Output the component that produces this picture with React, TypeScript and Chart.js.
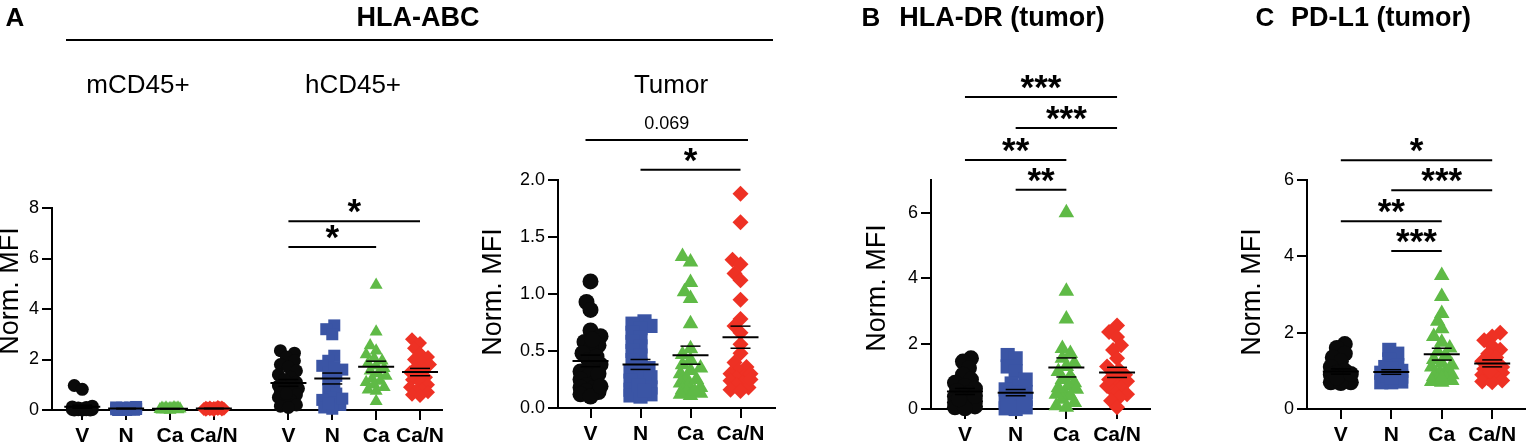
import React, { useEffect, useRef } from "react";
import { Chart, registerables } from "chart.js";
Chart.register(...registerables);

const FONT = "'Liberation Sans', Arial, Helvetica, sans-serif";

// ---------- categories / styling ----------
const GROUP_LABELS = ["V", "N", "Ca", "Ca/N"];
const GROUP_COLORS = ["#0a0a0a", "#3b55a5", "#5fba46", "#ee3124"];
const GROUP_SHAPES = ["circle", "rect", "triangle", "rectRot"];

// ---------- Panel A : HLA-ABC, mCD45+ ----------
const mCD45_V = [0.97, 0.82, 0.15, 0.12, 0.1, 0.08, 0.06, 0.05, 0.04, 0.03, 0.02, 0.02, 0.01, 0.0, 0.0, 0.0, 0.05, 0.07, 0.03, 0.01];
const mCD45_N = [0.12, 0.1, 0.09, 0.08, 0.07, 0.06, 0.05, 0.05, 0.04, 0.03, 0.02, 0.01, 0.0, 0.0, 0.03, 0.06, 0.08, 0.1];
const mCD45_Ca = [0.1, 0.09, 0.08, 0.07, 0.06, 0.05, 0.04, 0.03, 0.02, 0.01, 0.0, 0.02, 0.05, 0.07, 0.09, 0.03];
const mCD45_CaN = [0.12, 0.1, 0.09, 0.08, 0.07, 0.06, 0.05, 0.04, 0.03, 0.02, 0.01, 0.0, 0.05, 0.08, 0.1, 0.04];

// ---------- Panel A : HLA-ABC, hCD45+ ----------
const hCD45_V = [2.35, 2.25, 2.1, 1.95, 1.8, 1.7, 1.55, 1.4, 1.3, 1.2, 1.1, 1.0, 0.95, 0.9, 0.85, 0.8, 0.7, 0.6, 0.5, 0.4, 0.3, 0.2, 0.15, 0.1, 0.65];
const hCD45_N = [3.35, 3.2, 3.0, 2.15, 1.95, 1.75, 1.6, 1.5, 1.35, 1.2, 1.0, 0.8, 0.65, 0.5, 0.4, 0.3, 0.2, 0.1, 0.05, 1.7, 0.45, 0.25];
const hCD45_Ca = [4.95, 3.1, 2.55, 2.35, 2.2, 2.05, 1.95, 1.85, 1.75, 1.65, 1.55, 1.45, 1.35, 1.25, 1.15, 1.1, 1.0, 0.9, 0.8, 0.75, 0.35];
const hCD45_CaN = [2.8, 2.65, 2.45, 2.25, 2.1, 2.0, 1.9, 1.8, 1.7, 1.6, 1.5, 1.4, 1.3, 1.2, 1.1, 1.0, 0.9, 0.8, 0.75, 0.7, 0.6, 0.55];

// ---------- Panel A : HLA-ABC, Tumor ----------
const tumor_V = [1.11, 0.93, 0.86, 0.68, 0.63, 0.58, 0.55, 0.52, 0.48, 0.42, 0.38, 0.35, 0.32, 0.28, 0.25, 0.22, 0.2, 0.18, 0.17, 0.15, 0.14, 0.12, 0.1, 0.6, 0.45, 0.3, 0.19];
const tumor_N = [0.76, 0.74, 0.72, 0.7, 0.66, 0.62, 0.58, 0.54, 0.5, 0.46, 0.42, 0.38, 0.35, 0.32, 0.3, 0.27, 0.24, 0.21, 0.18, 0.16, 0.14, 0.12, 0.11, 0.1, 0.2, 0.15];
const tumor_Ca = [1.33, 1.28, 1.1, 1.02, 0.96, 0.74, 0.52, 0.47, 0.42, 0.38, 0.33, 0.3, 0.26, 0.22, 0.2, 0.18, 0.16, 0.14, 0.13, 0.12, 0.11, 0.15, 0.25, 0.35];
const tumor_CaN = [1.88, 1.63, 1.3, 1.26, 1.18, 1.12, 0.95, 0.78, 0.72, 0.66, 0.56, 0.48, 0.4, 0.36, 0.33, 0.3, 0.28, 0.26, 0.24, 0.22, 0.2, 0.18, 0.16, 0.15, 0.3, 0.25];

// ---------- Panel B : HLA-DR (tumor) ----------
const hladr_V = [1.55, 1.45, 1.25, 1.05, 0.9, 0.8, 0.7, 0.62, 0.55, 0.48, 0.42, 0.38, 0.32, 0.28, 0.24, 0.2, 0.16, 0.12, 0.08, 0.05, 0.02, 0.3, 0.4];
const hladr_N = [1.65, 1.55, 1.3, 1.15, 0.9, 0.78, 0.68, 0.6, 0.52, 0.45, 0.4, 0.35, 0.3, 0.25, 0.2, 0.15, 0.1, 0.05, 0.0, 0.02, 0.5, 0.3, 0.05, 0.1, 0.15];
const hladr_Ca = [6.0, 3.6, 2.75, 1.85, 1.7, 1.55, 1.4, 1.3, 1.15, 1.0, 0.9, 0.8, 0.7, 0.6, 0.5, 0.4, 0.3, 0.2, 0.1, 0.05, 0.45, 0.65];
const hladr_CaN = [2.55, 2.35, 2.2, 1.95, 1.8, 1.55, 1.3, 1.2, 1.05, 0.95, 0.85, 0.75, 0.65, 0.55, 0.45, 0.35, 0.25, 0.05, 1.1, 0.7, 0.9];

// ---------- Panel C : PD-L1 (tumor) ----------
const pdl1_V = [1.7, 1.6, 1.45, 1.35, 1.25, 1.1, 1.0, 0.95, 0.9, 0.87, 0.84, 0.8, 0.78, 0.76, 0.74, 0.72, 0.7, 0.7, 0.68, 0.82, 0.92];
const pdl1_N = [1.55, 1.45, 1.3, 1.15, 1.1, 1.0, 0.95, 0.9, 0.85, 0.8, 0.78, 0.75, 0.72, 0.7, 0.7, 0.88, 0.82, 1.05];
const pdl1_Ca = [3.5, 2.95, 2.5, 2.3, 2.1, 1.9, 1.75, 1.6, 1.5, 1.4, 1.3, 1.2, 1.1, 1.0, 0.95, 0.9, 0.85, 0.8, 0.76, 0.72, 0.7, 1.15, 0.75, 0.8];
const pdl1_CaN = [2.0, 1.9, 1.8, 1.65, 1.55, 1.45, 1.35, 1.25, 1.15, 1.05, 1.0, 0.95, 0.9, 0.85, 0.8, 0.75, 0.72, 0.7, 1.1, 0.98];

// ---------- axis ticks / positions ----------
const A_POSITIONS = [0, 1, 2, 3, 4.7, 5.7, 6.7, 7.7];
const A_LABELS = [...GROUP_LABELS, ...GROUP_LABELS];
const POS4 = [0, 1, 2, 3];
const A_YTICKS = [0, 2, 4, 6, 8];
const TUMOR_YTICKS = [0, 0.5, 1.0, 1.5, 2.0];
const B_YTICKS = [0, 2, 4, 6];
const C_YTICKS = [0, 2, 4, 6];

// ---------- significance brackets (from, to in category units; y in data units) ----------
const A_BRACKETS = [
  { from: 4.7, to: 7.7, y: 7.48, text: "*" },
  { from: 4.7, to: 6.7, y: 6.46, text: "*" },
];
const TUMOR_BRACKETS = [
  { from: -0.1, to: 3.15, y: 2.35, text: "0.069" },
  { from: 1, to: 3, y: 2.09, text: "*" },
];
const B_BRACKETS = [
  { from: 0, to: 3, y: 9.54, text: "***" },
  { from: 1, to: 3, y: 8.59, text: "***" },
  { from: 0, to: 2, y: 7.61, text: "**" },
  { from: 1, to: 2, y: 6.7, text: "**" },
];
const C_BRACKETS = [
  { from: 0, to: 3, y: 6.52, text: "*" },
  { from: 1, to: 3, y: 5.73, text: "***" },
  { from: 0, to: 2, y: 4.92, text: "**" },
  { from: 1, to: 2, y: 4.14, text: "***" },
];

type Bracket = { from: number; to: number; y: number; text: string };
type PanelCfg = {
  left: number;
  width: number;
  yAxisWidth: number;
  top: number;
  bottom: number;
  yMax: number;
  yTicks: number[];
  fmt: (v: number) => string;
  xMin: number;
  xMax: number;
  positions: number[];
  labels: string[];
  groups: number[][];
  radii: number[];
  minDist: number;
  maxOff: number;
  brackets: Bracket[];
  yTitle: { x: number; y: number };
};

const intFmt = (v: number) => String(Math.round(v));
const oneFmt = (v: number) => v.toFixed(1);

const PANELS: PanelCfg[] = [
  {
    left: 0, width: 450, yAxisWidth: 52, top: 208, bottom: 410,
    yMax: 8, yTicks: A_YTICKS, fmt: intFmt,
    xMin: -0.69, xMax: 8.19, positions: A_POSITIONS, labels: A_LABELS,
    groups: [mCD45_V, mCD45_N, mCD45_Ca, mCD45_CaN, hCD45_V, hCD45_N, hCD45_Ca, hCD45_CaN],
    radii: [6.5, 8.5, 7.5, 7], minDist: 7.5, maxOff: 11,
    brackets: A_BRACKETS, yTitle: { x: 11, y: 291 },
  },
  {
    left: 460, width: 325, yAxisWidth: 98, top: 180, bottom: 408,
    yMax: 2, yTicks: TUMOR_YTICKS, fmt: oneFmt,
    xMin: -0.65, xMax: 3.69, positions: POS4, labels: GROUP_LABELS,
    groups: [tumor_V, tumor_N, tumor_Ca, tumor_CaN],
    radii: [8, 10, 9, 8], minDist: 8.5, maxOff: 11,
    brackets: TUMOR_BRACKETS, yTitle: { x: 494, y: 292 },
  },
  {
    left: 850, width: 310, yAxisWidth: 81, top: 180, bottom: 409,
    yMax: 7, yTicks: B_YTICKS, fmt: intFmt,
    xMin: -0.67, xMax: 3.65, positions: POS4, labels: GROUP_LABELS,
    groups: [hladr_V, hladr_N, hladr_Ca, hladr_CaN],
    radii: [8, 10, 9, 8], minDist: 8.5, maxOff: 11,
    brackets: B_BRACKETS, yTitle: { x: 878, y: 288 },
  },
  {
    left: 1215, width: 320, yAxisWidth: 92, top: 180, bottom: 409,
    yMax: 6, yTicks: C_YTICKS, fmt: intFmt,
    xMin: -0.67, xMax: 3.65, positions: POS4, labels: GROUP_LABELS,
    groups: [pdl1_V, pdl1_N, pdl1_Ca, pdl1_CaN],
    radii: [8, 10, 9, 8], minDist: 8.5, maxOff: 11,
    brackets: C_BRACKETS, yTitle: { x: 1253, y: 292 },
  },
];

// deterministic beeswarm layout (pixel offsets), no randomness
function swarm(ys: number[], minDist: number, maxOff: number): number[] {
  const order = ys.map((_, i) => i).sort((a, b) => ys[b] - ys[a]);
  const placed: { x: number; y: number }[] = [];
  const res = new Array(ys.length).fill(0);
  const step = 2;
  const nSteps = Math.floor(maxOff / step) * 2;
  for (const i of order) {
    const y = ys[i];
    let best = 0;
    let bestScore = -Infinity;
    for (let k = 0; k <= nSteps; k++) {
      const off = (k % 2 === 0 ? 1 : -1) * Math.ceil(k / 2) * step;
      let dmin = Infinity;
      for (const p of placed) {
        const d = Math.hypot(p.x - off, p.y - y);
        if (d < dmin) dmin = d;
      }
      if (dmin >= minDist) {
        best = off;
        break;
      }
      if (dmin > bestScore) {
        bestScore = dmin;
        best = off;
      }
    }
    placed.push({ x: best, y });
    res[i] = best;
  }
  return res;
}

const mean = (a: number[]) => a.reduce((s, v) => s + v, 0) / a.length;
const sem = (a: number[]) => {
  const m = mean(a);
  const sd = Math.sqrt(a.reduce((s, v) => s + (v - m) * (v - m), 0) / (a.length - 1));
  return sd / Math.sqrt(a.length);
};

function PanelChart({ cfg }: { cfg: PanelCfg }) {
  const ref = useRef<HTMLCanvasElement>(null);
  useEffect(() => {
    const canvas = ref.current!;
    const axisGrid = { drawOnChartArea: false, drawTicks: true, tickLength: 10, color: "#000", lineWidth: 2 };
    const axisBorder = { display: true, color: "#000", width: 2 };

    const overlay = {
      id: "overlay",
      afterDatasetsDraw(chart: any) {
        const ctx = chart.ctx as CanvasRenderingContext2D;
        const xs = chart.scales.x;
        const ys = chart.scales.y;
        ctx.save();
        ctx.strokeStyle = "#000";
        ctx.fillStyle = "#000";
        ctx.lineCap = "butt";
        // mean +/- SEM
        cfg.groups.forEach((vals, gi) => {
          const cx = xs.getPixelForValue(cfg.positions[gi]);
          const m = mean(vals);
          const s = sem(vals);
          const ym = ys.getPixelForValue(m);
          ctx.lineWidth = 2;
          ctx.beginPath();
          ctx.moveTo(cx - 18, ym);
          ctx.lineTo(cx + 18, ym);
          ctx.stroke();
          ctx.lineWidth = 1.5;
          [m + s, m - s].forEach((v) => {
            const yy = ys.getPixelForValue(v);
            ctx.beginPath();
            ctx.moveTo(cx - 10, yy);
            ctx.lineTo(cx + 10, yy);
            ctx.stroke();
          });
        });
        // brackets
        ctx.lineWidth = 2;
        cfg.brackets.forEach((b) => {
          const x1 = xs.getPixelForValue(b.from);
          const x2 = xs.getPixelForValue(b.to);
          const yy = ys.getPixelForValue(b.y);
          ctx.beginPath();
          ctx.moveTo(x1, yy);
          ctx.lineTo(x2, yy);
          ctx.stroke();
          const isStar = b.text.startsWith("*");
          ctx.font = isStar ? `bold 35px ${FONT}` : `18px ${FONT}`;
          ctx.textAlign = "center";
          ctx.textBaseline = "alphabetic";
          const mt = ctx.measureText(b.text);
          const gap = isStar ? 8 : 11;
          const base = yy - gap - mt.actualBoundingBoxDescent;
          ctx.fillText(b.text, (x1 + x2) / 2, base);
        });
        // y-axis title
        ctx.translate(cfg.yTitle.x - cfg.left, cfg.yTitle.y);
        ctx.rotate(-Math.PI / 2);
        ctx.font = `27px ${FONT}`;
        ctx.textAlign = "center";
        ctx.textBaseline = "middle";
        ctx.fillText("Norm. MFI", 0, 0);
        ctx.restore();
      },
    };

    const chart = new Chart(canvas, {
      type: "scatter",
      data: {
        datasets: cfg.groups.map((vals, gi) => ({
          data: vals.map((v) => ({ x: cfg.positions[gi], y: v })),
          pointStyle: GROUP_SHAPES[gi % 4] as any,
          pointRadius: cfg.radii[gi % 4],
          pointHoverRadius: cfg.radii[gi % 4],
          backgroundColor: GROUP_COLORS[gi % 4],
          borderColor: GROUP_COLORS[gi % 4],
          borderWidth: 0,
          clip: false as any,
        })),
      },
      options: {
        responsive: false,
        animation: false,
        events: [],
        layout: { padding: { top: cfg.top, left: 0, right: 0, bottom: 0 } },
        plugins: { legend: { display: false }, tooltip: { enabled: false }, title: { display: false } },
        scales: {
          x: {
            type: "linear",
            min: cfg.xMin,
            max: cfg.xMax,
            afterBuildTicks: (s: any) => {
              s.ticks = cfg.positions.map((v) => ({ value: v }));
            },
            afterFit: (s: any) => {
              s.height = 446 - cfg.bottom;
            },
            ticks: {
              callback: (_v: any, i: number) => cfg.labels[i],
              autoSkip: false,
              maxRotation: 0,
              minRotation: 0,
              color: "#000",
              font: { family: FONT, size: 21, weight: "bold" },
              padding: 4,
            },
            grid: axisGrid,
            border: axisBorder,
          },
          y: {
            type: "linear",
            min: 0,
            max: cfg.yMax,
            afterBuildTicks: (s: any) => {
              s.ticks = cfg.yTicks.map((v) => ({ value: v }));
            },
            afterFit: (s: any) => {
              s.width = cfg.yAxisWidth;
            },
            ticks: {
              callback: (v: any) => cfg.fmt(Number(v)),
              color: "#000",
              font: { family: FONT, size: 18 },
              padding: 3,
            },
            grid: axisGrid,
            border: axisBorder,
          },
        },
      } as any,
      plugins: [overlay],
    });

    // beeswarm spread computed with the chart's own scales
    const ys = chart.scales.y;
    const xs = chart.scales.x;
    const kx = Math.abs(xs.getPixelForValue(1) - xs.getPixelForValue(0));
    chart.data.datasets.forEach((ds: any, gi: number) => {
      const vals = cfg.groups[gi];
      const pix = vals.map((v) => ys.getPixelForValue(v));
      const offs = swarm(pix, cfg.minDist, cfg.maxOff);
      ds.data = vals.map((v, i) => ({ x: cfg.positions[gi] + offs[i] / kx, y: v }));
    });
    chart.update("none");

    return () => chart.destroy();
  }, [cfg]);
  return (
    <canvas
      ref={ref}
      width={cfg.width}
      height={446}
      style={{ position: "absolute", left: cfg.left, top: 0, width: cfg.width, height: 446 }}
    />
  );
}

type Label = { text: string; x: number; y: number; size: number; bold?: boolean };
const HEADERS: Label[] = [
  { text: "A", x: 15, y: 17, size: 26, bold: true },
  { text: "HLA-ABC", x: 418, y: 17, size: 27, bold: true },
  { text: "mCD45+", x: 138, y: 84, size: 26 },
  { text: "hCD45+", x: 353, y: 84, size: 26 },
  { text: "Tumor", x: 671, y: 84, size: 26 },
  { text: "B", x: 871, y: 17, size: 26, bold: true },
  { text: "HLA-DR (tumor)", x: 1002, y: 17, size: 27, bold: true },
  { text: "C", x: 1265, y: 17, size: 26, bold: true },
  { text: "PD-L1 (tumor)", x: 1381, y: 17, size: 27, bold: true },
];

export default function App() {
  return (
    <div
      style={{
        position: "fixed",
        left: 0,
        top: 0,
        width: 1535,
        height: 446,
        background: "#fff",
        overflow: "hidden",
        fontFamily: FONT,
        color: "#000",
      }}
    >
      {PANELS.map((p, i) => (
        <PanelChart key={i} cfg={p} />
      ))}
      {HEADERS.map((h, i) => (
        <div
          key={i}
          style={{
            position: "absolute",
            left: h.x,
            top: h.y,
            transform: "translate(-50%, -50%)",
            fontSize: h.size,
            fontWeight: h.bold ? "bold" : "normal",
            lineHeight: 1,
            whiteSpace: "nowrap",
          }}
        >
          {h.text}
        </div>
      ))}
      <div style={{ position: "absolute", left: 66, top: 39, width: 707, height: 2, background: "#000" }} />
    </div>
  );
}
